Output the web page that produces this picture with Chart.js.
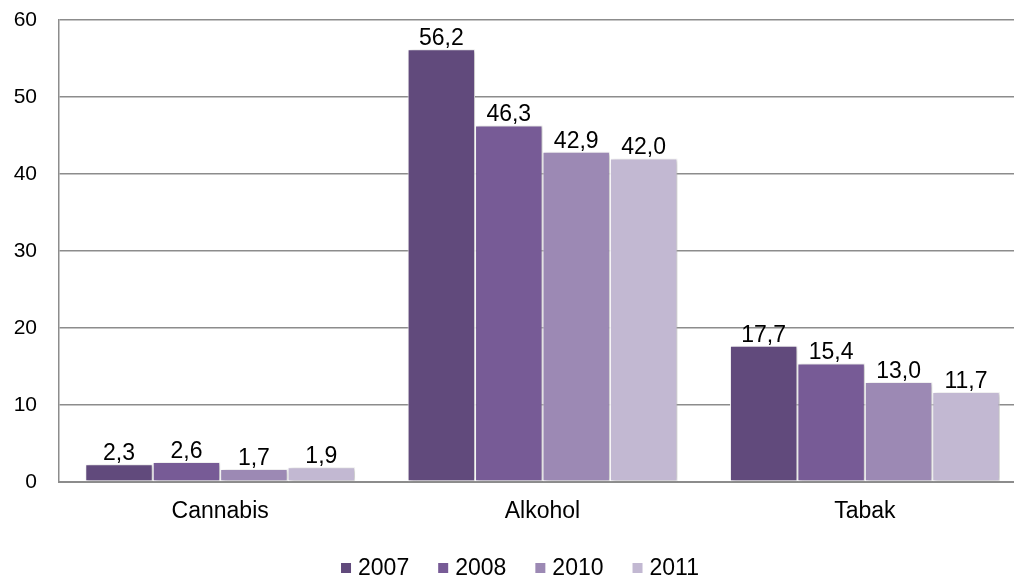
<!DOCTYPE html>
<html>
<head>
<meta charset="utf-8">
<script src="https://cdn.jsdelivr.net/npm/chart.js@4"></script>
<style>
  html, body { margin: 0; padding: 0; background: #fff; overflow: hidden; }
  #wrap { width: 1040px; height: 577px; }
</style>
</head>
<body>
<div id="wrap"><canvas id="chart"></canvas></div>
<script>
const categories = ["Cannabis", "Alkohol", "Tabak"];
const years = ["2007", "2008", "2010", "2011"];
const values2007 = [2.3, 56.2, 17.7];
const values2008 = [2.6, 46.3, 15.4];
const values2010 = [1.7, 42.9, 13.0];
const values2011 = [1.9, 42.0, 11.7];
const colors = ["#614a7c", "#775b96", "#9c89b4", "#c2b8d2"];
const yTicks = [0, 10, 20, 30, 40, 50, 60];

const FONT = "'Liberation Sans', Arial, sans-serif";

// value labels above each bar, with comma decimals
const barLabels = {
  id: "barLabels",
  afterDatasetsDraw(chart) {
    const ctx = chart.ctx;
    ctx.save();
    ctx.font = "23px " + FONT;
    ctx.fillStyle = "#000";
    ctx.textAlign = "center";
    ctx.textBaseline = "bottom";
    chart.data.datasets.forEach((ds, i) => {
      chart.getDatasetMeta(i).data.forEach((bar, j) => {
        const txt = ds.data[j].toFixed(1).replace(".", ",");
        ctx.fillText(txt, bar.x, bar.y + 1);
      });
    });
    ctx.restore();
  }
};

// soft drop shadow under the bars
const barShadow = {
  id: "barShadow",
  beforeDatasetsDraw(chart) {
    const ctx = chart.ctx;
    ctx.save();
    ctx.shadowColor = "rgba(0,0,0,0.25)";
    ctx.shadowBlur = 4;
    ctx.shadowOffsetX = 2;
    ctx.shadowOffsetY = 1;
  },
  afterDatasetsDraw(chart) {
    chart.ctx.restore();
  }
};

// legend row at the bottom: small square + year
const bottomLegend = {
  id: "bottomLegend",
  afterDraw(chart) {
    const ctx = chart.ctx;
    ctx.save();
    ctx.font = "23px " + FONT;
    ctx.textBaseline = "middle";
    ctx.textAlign = "left";
    const box = 10, gap = 7, spacing = 29, cy = 568;
    const widths = years.map(y => box + gap + ctx.measureText(y).width);
    const total = widths.reduce((a, b) => a + b, 0) + spacing * (years.length - 1);
    let x = 520 - total / 2;
    years.forEach((y, i) => {
      ctx.fillStyle = colors[i];
      ctx.fillRect(x, cy - box / 2, box, box);
      ctx.fillStyle = "#000";
      ctx.fillText(y, x + box + gap, cy + 1);
      x += widths[i] + spacing;
    });
    ctx.restore();
  }
};

const series = [values2007, values2008, values2010, values2011];

new Chart(document.getElementById("chart"), {
  type: "bar",
  data: {
    labels: categories,
    datasets: years.map((y, i) => ({
      label: y,
      data: series[i],
      backgroundColor: colors[i],
      borderColor: "#ffffff",
      borderWidth: 1,
      borderSkipped: false,
      barPercentage: 1,
      categoryPercentage: 0.837
    }))
  },
  options: {
    responsive: true,
    maintainAspectRatio: false,
    animation: false,
    layout: { padding: { top: 20, right: 14, left: 0, bottom: 0 } },
    plugins: {
      legend: { display: false },
      tooltip: { enabled: false }
    },
    scales: {
      x: {
        grid: { display: false },
        border: { display: true, color: "#8c8c8c", width: 2 },
        ticks: { font: { family: FONT, size: 23 }, color: "#000", padding: 8 },
        afterFit(scale) { scale.height = 95; }
      },
      y: {
        min: 0,
        max: 60,
        afterBuildTicks(scale) { scale.ticks = yTicks.map(v => ({ value: v })); },
        grid: { color: "#8c8c8c", lineWidth: 1.5, drawTicks: false },
        border: { display: true, color: "#8c8c8c", width: 1.5 },
        ticks: { font: { family: FONT, size: 21 }, color: "#000", padding: 22 },
        afterFit(scale) {
          scale.width = 59;
          scale.paddingTop = 0;
          scale.paddingBottom = 0;
        }
      }
    }
  },
  plugins: [barShadow, barLabels, bottomLegend]
});
</script>
</body>
</html>
